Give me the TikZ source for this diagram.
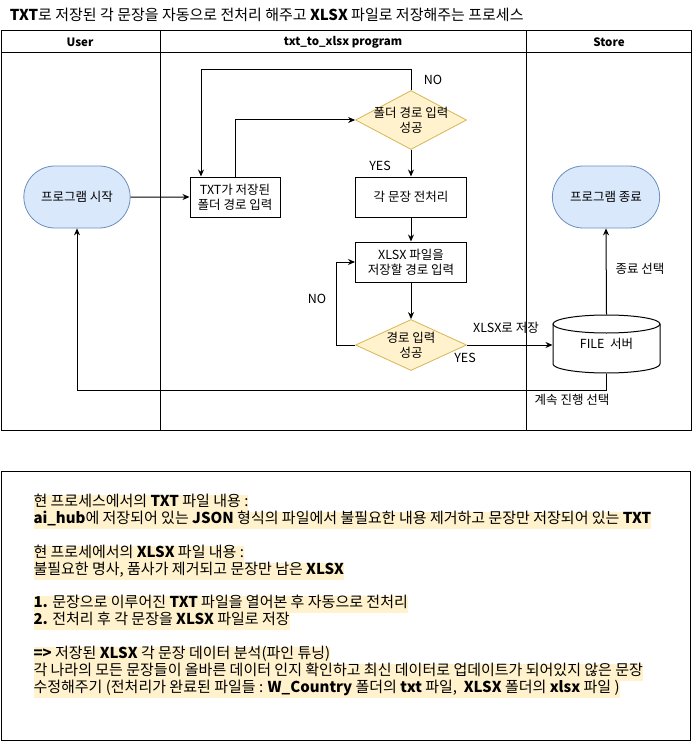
\documentclass[tikz,border=0pt]{standalone}
\usepackage{fontspec}
\setmainfont{Noto Sans CJK KR}
\usetikzlibrary{shapes.geometric,shapes.misc,arrows.meta}
\definecolor{termfill}{HTML}{DAE8FC}
\definecolor{termdraw}{HTML}{6C8EBF}
\definecolor{decfill}{HTML}{FFF2CC}
\definecolor{decdraw}{HTML}{D6B656}
\definecolor{notefill}{HTML}{FFF2CC}
\begin{document}
\begin{tikzpicture}[
		x=1pt, y=-1pt,
		line width=1pt,
		every node/.style={font=\fontsize{12.5}{15}\selectfont},
		terminal/.style={rounded rectangle, rounded rectangle arc length=180, draw=termdraw, fill=termfill, minimum width=113pt, minimum height=62pt, line width=0.8pt},
		procbox/.style={draw, minimum width=111pt, minimum height=40pt, align=center, inner sep=1pt},
		decision/.style={diamond, draw=decdraw, fill=decfill, minimum width=111pt, minimum height=59pt, inner sep=0pt, line width=0.8pt},
		flow/.style={-{Stealth[length=7pt,width=6pt]}},
		lane title/.style={font=\fontsize{11.5}{14}\selectfont\bfseries},
		note/.style={anchor=west, fill=notefill, inner sep=0pt, minimum height=17pt, text height=11.5pt, text depth=4pt, font=\fontsize{15}{17}\selectfont}
		]
	\useasboundingbox (0,0) rectangle (692,741);
	
	% Title
	\node[anchor=west, font=\fontsize{15}{17}\selectfont] (title) at (6,15) {\textbf{TXT}로 저장된 각 문장을 자동으로 전처리 해주고 \textbf{XLSX} 파일로 저장해주는 프로세스};
	
	% Lanes
	\draw (1,31) rectangle (691,430);
	\draw (1,53) -- (691,53);
	\foreach \x in {160, 526}{
		\draw (\x, 31) -- (\x, 430);
	}
	\node[lane title] (user) at (80,42) {User};
	\node[lane title] (prog) at (343,42) {txt\_to\_xlsx program};
	\node[lane title] (store) at (609,42) {Store};
	
	% Steps
	\node[terminal] (start) at (77,197) {프로그램 시작};
	\node[procbox, minimum width=90pt] (txt) at (235,197) {TXT가 저장된\\폴더 경로 입력};
	\node[decision, label={[name=dec1t, align=center]center:{폴더 경로 입력\\성공}}] (dec1) at (411,120) {};
	\node[procbox] (prep) at (411,197) {각 문장 전처리};
	\node[procbox] (path) at (411,262) {XLSX 파일을\\저장할 경로 입력};
	\node[decision, minimum height=51pt, label={[name=dec2t, align=center]center:{경로 입력\\성공}}] (dec2) at (411,345) {};
	\node[minimum width=107pt, minimum height=58pt] (srv) at (606.5,344) {FILE\ \ 서버};
	\node[terminal, minimum width=114pt] (end) at (606,197) {프로그램 종료};
	
	% Server drum
	\draw (606.5,324) ellipse [x radius=53.5, y radius=9];
	\draw (553,324) -- (553,364) arc[start angle=180, end angle=0, x radius=53.5, y radius=9] -- (660,324);
	
	% Connectors
	\coordinate (noturn) at (201,70);
	\coordinate (noback) at (336,262);
	\coordinate (goon) at (77,390);
	\draw[flow] (start) -- (txt);
	\draw[flow] (txt.north) |- (dec1.west);
	\draw[flow] (dec1.north) |- (noturn) -- (noturn |- txt.north);
	\draw[flow] (dec1.south) -- (prep.north);
	\draw[flow] (prep.south) -- (path.north);
	\draw[flow] (path.south) -- (dec2.north);
	\draw[flow] (dec2.west) -| (noback) -- (path.west);
	\draw[flow] (dec2.east) -- (dec2.east -| srv.west);
	\draw[flow] (srv.north) -- (end.south);
	\draw[flow] (srv.south) |- (goon) -- (start.south);
	
	% Labels
	\node (no1) at (433,80) {NO};
	\node (yes1) at (380,166) {YES};
	\node (no2) at (317,299) {NO};
	\node (yes2) at (465,358) {YES};
	\node (save) at (506,328) {XLSX로 저장};
	\node (quit) at (640,269) {종료 선택};
	\node (cont) at (572,400) {계속 진행 선택};
	
	% Notes
	\draw (1,471) rectangle (690,740);
	\node[note] (note1) at (33,503) {현 프로세스에서의 \textbf{TXT} 파일 내용 :};
	\node[note] (note2) at (33,520) {\textbf{ai\_hub}에 저장되어 있는 \textbf{JSON} 형식의 파일에서 불필요한 내용 제거하고 문장만 저장되어 있는 \textbf{TXT}};
	\node[note] (note3) at (33,554) {현 프로세에서의 \textbf{XLSX} 파일 내용 :};
	\node[note] (note4) at (33,571) {불필요한 명사, 품사가 제거되고 문장만 남은 \textbf{XLSX}};
	\node[note] (note5) at (33,604) {\textbf{1.} 문장으로 이루어진 \textbf{TXT} 파일을 열어본 후 자동으로 전처리};
	\node[note] (note6) at (33,621) {\textbf{2.} 전처리 후 각 문장을 \textbf{XLSX} 파일로 저장};
	\node[note] (note7) at (33,655) {\textbf{=>} 저장된 \textbf{XLSX} 각 문장 데이터 분석(파인 튜닝)};
	\node[note] (note8) at (33,672) {각 나라의 모든 문장들이 올바른 데이터 인지 확인하고 최신 데이터로 업데이트가 되어있지 않은 문장};
	\node[note] (note9) at (33,689) {수정해주기 (전처리가 완료된 파일들 : \textbf{W\_Country} 폴더의 \textbf{txt} 파일,\ \ \textbf{XLSX} 폴더의 \textbf{xlsx} 파일 )};

\end{tikzpicture}
\end{document}
